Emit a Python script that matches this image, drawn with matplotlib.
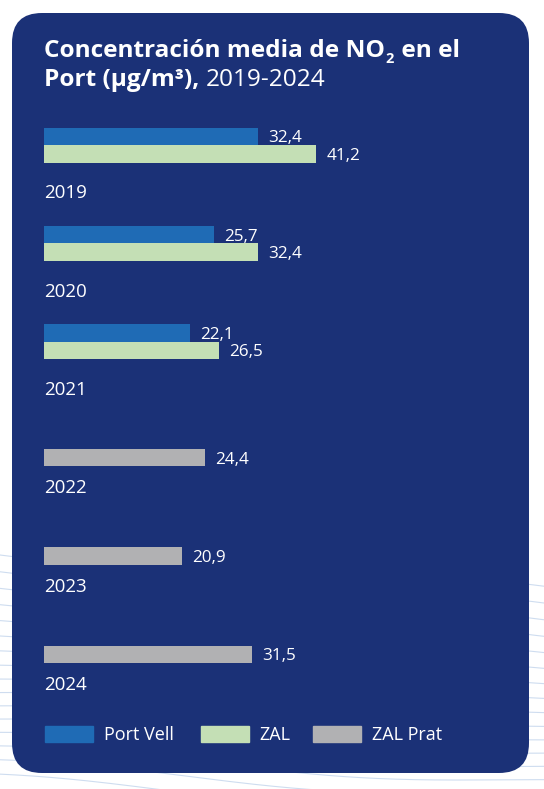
import matplotlib
matplotlib.use('Agg')
from matplotlib import pyplot as plt
from matplotlib.patches import FancyBboxPatch, Patch
import numpy as np

# data
years = ['2019', '2020', '2021', '2022', '2023', '2024']
port_vell = [32.4, 25.7, 22.1, None, None, None]
zal = [41.2, 32.4, 26.5, None, None, None]
zal_prat = [None, None, None, 24.4, 20.9, 31.5]
labels = ['Port Vell', 'ZAL', 'ZAL Prat']

bg = '#1b3177'
c_pv = '#1f6bb5'
c_zal = '#c4dfb5'
c_prat = '#b1b1b3'
font = ['Open Sans', 'DejaVu Sans']


def fmt(v):
    return f'{v:.1f}'.replace('.', ',')


W, H = 544, 789
fig = plt.figure(figsize=(W / 100, H / 100), dpi=100)
fig.patch.set_facecolor('white')

# faint decorative lines on the white margin
deco = fig.add_axes([0, 0, 1, 1], zorder=0)
deco.set_xlim(0, W)
deco.set_ylim(H, 0)
deco.axis('off')
xx = np.linspace(0, W, 200)
for k in range(16):
    y0 = 555 + k * 15
    deco.plot(xx, y0 + 0.06 * xx + 6 * np.sin(xx / 90 + k * 0.3), color='#c9d9ee', lw=0.8, alpha=0.9)

# rounded box
box = FancyBboxPatch((12 / W, 1 - 773 / H), (529 - 12) / W, (773 - 13) / H,
                     boxstyle='round,pad=0,rounding_size=0.055', transform=fig.transFigure,
                     facecolor=bg, edgecolor='none', zorder=1, mutation_aspect=W / H)
fig.patches.append(box)

# main axes: x in data units (6.6 px per unit, 0 at px 44), y in year slots
px_per_unit = 6.6
slot = 98.3
y0px = 191.5
ax = fig.add_axes([0, 0, 1, 1], zorder=2)
ax.patch.set_alpha(0)
ax.set_xlim(-44 / px_per_unit, (W - 44) / px_per_unit)
ax.set_ylim((H - y0px) / slot, -y0px / slot)
ax.axis('off')

bh = 17.5 / slot
for i, yr in enumerate(years):
    if port_vell[i] is not None:
        ax.barh(i - 0.56, port_vell[i], height=bh, color=c_pv)
        ax.barh(i - 0.383, zal[i], height=bh, color=c_zal)
        ax.text(port_vell[i] + 1.6, i - 0.56, fmt(port_vell[i]),
                color='white', fontsize=12.3, family=font, va='center_baseline')
        ax.text(zal[i] + 1.6, i - 0.383, fmt(zal[i]),
                color='white', fontsize=12.3, family=font, va='center_baseline')
    else:
        ax.barh(i - 0.292, zal_prat[i], height=bh, color=c_prat)
        ax.text(zal_prat[i] + 1.6, i - 0.292, fmt(zal_prat[i]),
                color='white', fontsize=12.3, family=font, va='center_baseline')
    ax.text(0, i, yr, color='white', fontsize=13.5, family=font,
            va='center_baseline', ha='left')

# legend, one entry each
for lab, col, xpx in zip(labels, (c_pv, c_zal, c_prat), (45, 201, 313)):
    leg = fig.legend([Patch(color=col)], [lab], loc='center left',
                     bbox_to_anchor=(xpx / W, 1 - 735 / H), frameon=False,
                     borderpad=0, borderaxespad=0, handlelength=2.66,
                     handleheight=1.0, handletextpad=0.6,
                     prop={'family': font, 'size': 13})
    for t in leg.get_texts():
        t.set_color('white')

# title
ts = 17.6
base1 = 1 - 57 / H
base2 = 1 - 86 / H
fig.canvas.draw()
r = fig.canvas.get_renderer()
a = fig.text(44 / W, base1, 'Concentración media de NO', color='white',
             fontsize=ts, fontweight='bold', family=font, va='baseline')
x = a.get_window_extent(r).x1
b = fig.text((x + 1) / W, base1 - 6 / H, '2', color='white',
             fontsize=ts * 0.6, fontweight='bold', family=font, va='baseline')
x = b.get_window_extent(r).x1
fig.text((x + 1) / W, base1, ' en el', color='white',
         fontsize=ts, fontweight='bold', family=font, va='baseline')
t2 = fig.text(44 / W, base2, 'Port (µg/m³),', color='white',
              fontsize=ts, fontweight='bold', family=font, va='baseline')
x = t2.get_window_extent(r).x1
fig.text((x + 6) / W, base2, '2019-2024', color='white',
         fontsize=ts, family=font, va='baseline')

fig.savefig('out.png', dpi=100, facecolor='white')
